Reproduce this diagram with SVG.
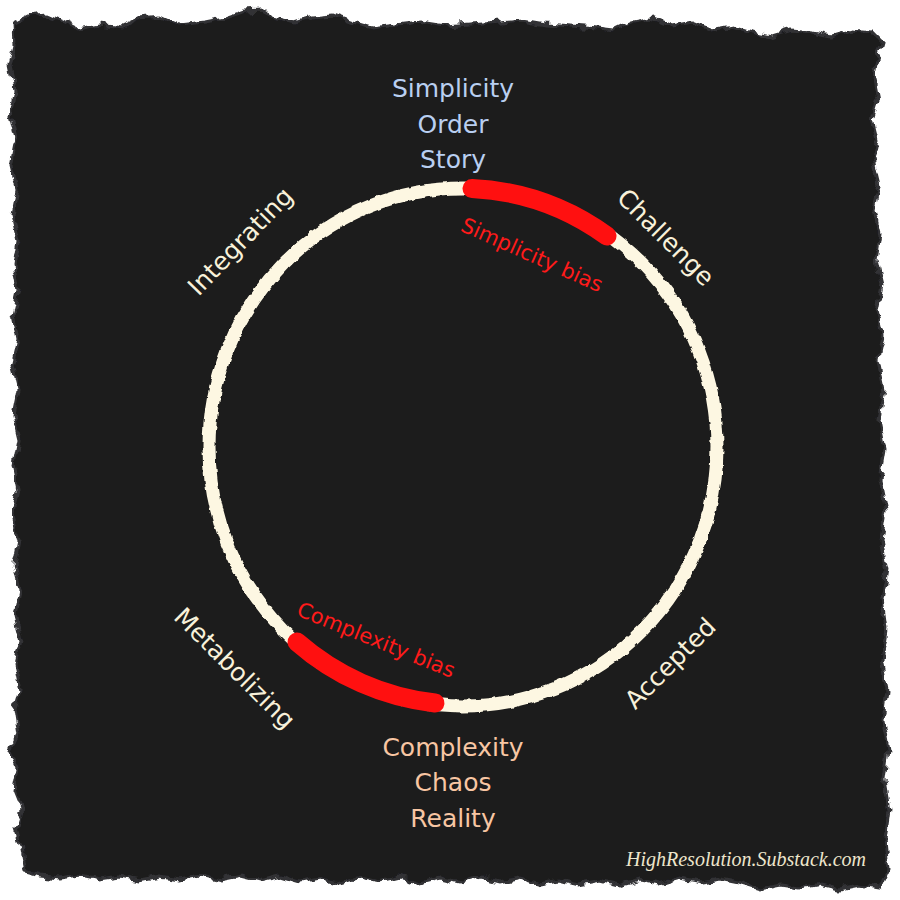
<svg xmlns="http://www.w3.org/2000/svg" width="900" height="900" viewBox="0 0 900 900">
  <defs>
    <filter id="rough" x="-5%" y="-5%" width="110%" height="110%">
      <feTurbulence type="fractalNoise" baseFrequency="0.09" numOctaves="2" seed="3" result="n"/>
      <feDisplacementMap in="SourceGraphic" in2="n" scale="10" xChannelSelector="R" yChannelSelector="G"/>
    </filter>
    <filter id="wobble" x="-5%" y="-5%" width="110%" height="110%">
      <feTurbulence type="fractalNoise" baseFrequency="0.12" numOctaves="2" seed="7" result="n"/>
      <feDisplacementMap in="SourceGraphic" in2="n" scale="4" xChannelSelector="R" yChannelSelector="G"/>
    </filter>
    <style>
      .lbl { font-family: "DejaVu Sans", "Liberation Sans", sans-serif; font-size: 25px; text-anchor: middle; }
      .cream { fill: #f8f1da; }
      .blue { fill: #b9cff1; }
      .peach { fill: #f8c6a3; }
      .bias { font-family: "DejaVu Sans", "Liberation Sans", sans-serif; font-size: 21px; fill: #ff1a1a; text-anchor: middle; }
      .ring { fill: none; stroke: #fdf7e2; stroke-width: 13; }
      .redarc { fill: none; stroke: #ff1010; stroke-width: 19; stroke-linecap: round; }
    </style>
  </defs>
  <rect width="900" height="900" fill="#ffffff"/>
  <g id="background" filter="url(#rough)">
    <path fill="#1c1c1f" stroke="#333336" stroke-width="3" d="M14 24 L30 16 L48 14 L62 20 L78 28 L100 24 L120 27 L140 18 L160 16 L180 25 L205 22 L225 18 L245 11 L262 10 L278 18 L295 22 L312 17 L333 15 L352 22 L372 28 L395 25 L420 22 L445 26 L470 24 L500 22 L522 20 L545 24 L572 26 L598 28 L615 30 L632 22 L652 18 L672 26 L692 22 L712 30 L732 26 L752 32 L772 36 L792 30 L812 32 L832 36 L852 30 L872 32 L882 42 L876 62 L874 80 L878 100 L872 120 L877 140 L873 160 L879 185 L874 210 L880 235 L876 260 L882 285 L877 310 L883 335 L878 360 L884 390 L879 420 L885 450 L880 480 L886 510 L881 540 L887 570 L882 600 L886 630 L881 660 L887 690 L883 720 L888 750 L884 780 L889 810 L885 840 L888 870 L880 888 L860 885 L840 889 L820 884 L800 888 L780 885 L760 889 L740 883 L720 879 L700 882 L680 878 L660 884 L640 880 L620 886 L600 881 L580 885 L560 880 L540 884 L520 878 L500 882 L480 877 L460 883 L440 878 L420 883 L400 877 L380 882 L360 878 L340 884 L320 878 L300 882 L280 876 L260 881 L240 876 L220 880 L200 875 L180 879 L160 876 L140 880 L120 876 L100 879 L80 875 L60 878 L40 876 L26 872 L22 850 L16 830 L22 810 L14 790 L18 770 L10 752 L18 735 L14 710 L20 690 L15 665 L21 640 L15 615 L20 590 L14 565 L19 540 L13 515 L19 490 L14 465 L19 440 L13 415 L18 390 L12 365 L18 340 L13 315 L19 290 L14 265 L18 240 L12 215 L17 190 L11 165 L16 140 L10 115 L15 90 L10 65 L15 45 Z"/>
  </g>
  <g id="cycle">
    <ellipse class="ring" cx="463" cy="447" rx="254" ry="259" filter="url(#wobble)"/>
  </g>
  <g id="connectors">
    <path id="simplicity-bias-arc" class="redarc" d="M472 188.5 A254 259 0 0 1 607 236"/>
    <path id="complexity-bias-arc" class="redarc" d="M297 642 A254 259 0 0 0 435 703"/>
  </g>
  <g id="node-simplicity">
    <text class="lbl blue" x="453" y="97">Simplicity</text>
    <text class="lbl blue" x="453" y="133">Order</text>
    <text class="lbl blue" x="453" y="168">Story</text>
  </g>
  <g id="node-complexity">
    <text class="lbl peach" x="453" y="756">Complexity</text>
    <text class="lbl peach" x="453" y="791">Chaos</text>
    <text class="lbl peach" x="453" y="827">Reality</text>
  </g>
  <g id="node-challenge">
    <text class="lbl cream" transform="translate(666 237) rotate(45)" y="9">Challenge</text>
  </g>
  <g id="node-accepted">
    <text class="lbl cream" transform="translate(670 663) rotate(-45)" y="9">Accepted</text>
  </g>
  <g id="node-metabolizing">
    <text class="lbl cream" transform="translate(235 668) rotate(45)" y="9">Metabolizing</text>
  </g>
  <g id="node-integrating">
    <text class="lbl cream" transform="translate(240 241) rotate(-46)" y="9">Integrating</text>
  </g>
  <g id="label-simplicity-bias">
    <text class="bias" transform="translate(532 255) rotate(24)" y="7">Simplicity bias</text>
  </g>
  <g id="label-complexity-bias">
    <text class="bias" transform="translate(376 640) rotate(22)" y="7">Complexity bias</text>
  </g>
  <g id="watermark">
    <text x="746" y="866" text-anchor="middle" font-family="'Liberation Serif', 'DejaVu Serif', serif" font-style="italic" font-size="20" fill="#eee6cc">HighResolution.Substack.com</text>
  </g>
</svg>
